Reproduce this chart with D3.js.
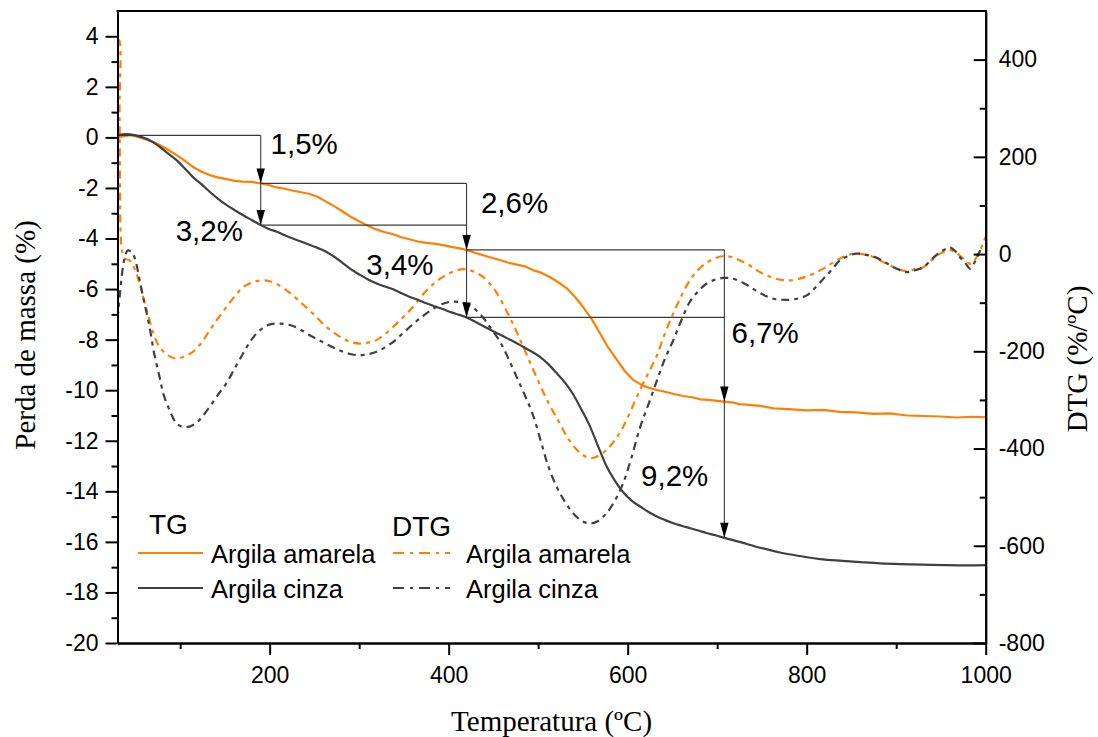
<!DOCTYPE html>
<html>
<head>
<meta charset="utf-8">
<script src="https://cdn.jsdelivr.net/npm/d3@7"></script>
<style>
  html, body { margin: 0; padding: 0; background: #fff; }
  svg { display: block; }
</style>
</head>
<body>
<svg id="chart" width="1098" height="737"></svg>
<script>
// ---- Data -------------------------------------------------------------
// TG (mass loss, %) — temperature in ºC
const tgAmarelaT = [30, 36, 44, 52, 62, 70, 77, 86, 96, 105, 114, 124, 133, 142, 152, 161, 170, 180, 190, 199,
  208, 217, 226, 235, 245, 254, 263, 273, 282, 291, 301, 310, 319, 328, 338, 347, 356, 366, 375, 384,
  394, 403, 412, 420, 430, 446, 457, 466, 475, 485, 494, 504, 513, 522, 532, 541, 550, 560, 569, 578,
  588, 597, 606, 616, 625, 634, 644, 653, 662, 672, 681, 690, 700, 708, 718, 725, 735, 748, 763, 780,
  800, 818, 837, 855, 875, 893, 912, 930, 949, 968, 985, 1000];
const tgAmarela = [-0.02, 0.04, 0.09, 0.03, -0.08, -0.18, -0.30, -0.48, -0.70, -0.92, -1.16, -1.36, -1.49, -1.58, -1.65, -1.72, -1.75, -1.76, -1.82, -1.88,
  -1.98, -2.03, -2.11, -2.17, -2.24, -2.36, -2.54, -2.74, -2.94, -3.15, -3.34, -3.50, -3.64, -3.74, -3.83, -3.95, -4.03, -4.12, -4.17, -4.20,
  -4.26, -4.33, -4.39, -4.45, -4.57, -4.74, -4.85, -4.95, -5.02, -5.10, -5.25, -5.36, -5.52, -5.72, -5.97, -6.30, -6.70, -7.20, -7.75, -8.30,
  -8.80, -9.25, -9.59, -9.80, -9.92, -10.00, -10.08, -10.16, -10.23, -10.28, -10.36, -10.38, -10.42, -10.45, -10.49, -10.55, -10.58, -10.62, -10.72, -10.75,
  -10.80, -10.78, -10.86, -10.88, -10.94, -10.92, -11.00, -11.02, -11.04, -11.08, -11.05, -11.07];

const tgCinzaT = [30, 40, 50, 58, 68, 77, 86, 96, 105, 114, 124, 133, 142, 152, 161, 170, 180, 190, 199, 208,
  217, 226, 235, 245, 254, 263, 273, 282, 291, 301, 310, 319, 328, 338, 347, 356, 366, 375, 384, 394,
  403, 412, 420, 430, 446, 456, 465, 474, 483, 492, 502, 511, 520, 530, 539, 548, 558, 567, 576, 586,
  595, 604, 614, 623, 632, 642, 651, 660, 670, 679, 688, 698, 707, 725, 748, 770, 790, 815, 840, 860,
  882, 905, 930, 955, 980, 1000];
const tgCinza = [0.08, 0.13, 0.08, 0.0, -0.15, -0.37, -0.62, -0.90, -1.22, -1.56, -1.86, -2.15, -2.42, -2.68, -2.88, -3.07, -3.27, -3.47, -3.62, -3.73,
  -3.87, -4.00, -4.12, -4.26, -4.38, -4.52, -4.74, -4.98, -5.22, -5.44, -5.62, -5.77, -5.89, -6.01, -6.16, -6.30, -6.43, -6.56, -6.68, -6.80,
  -6.92, -7.02, -7.12, -7.30, -7.60, -7.78, -7.94, -8.10, -8.28, -8.46, -8.68, -8.96, -9.30, -9.70, -10.16, -10.74, -11.44, -12.22, -12.98, -13.60,
  -14.04, -14.36, -14.60, -14.81, -14.99, -15.14, -15.26, -15.36, -15.46, -15.55, -15.65, -15.74, -15.83, -16.00, -16.23, -16.42, -16.55, -16.68, -16.75, -16.80,
  -16.85, -16.88, -16.90, -16.92, -16.93, -16.92];

// DTG (%/ºC)
const dtgAmarelaT = [30, 31.8, 32.3, 32.8, 33.5, 35, 38, 43.5, 49, 54.7, 60, 65.8, 71, 77, 86, 95.7, 105, 114.3, 124, 133, 142,
  151.6, 161, 170.2, 181, 192.5, 200, 207.5, 217, 226, 235, 244.7, 254, 263.4, 273, 282, 291, 300.6, 310, 319.3, 328,
  337.8, 347, 356.5, 366, 375.2, 384, 393.7, 405, 416, 425, 438.4, 452, 466, 476, 485, 494, 503, 512, 522, 531,
  540, 549, 558, 567, 576.4, 586, 595, 604, 613.6, 623, 632.3, 641, 651, 660, 669.5, 679, 688, 697, 706.8, 716,
  725.5, 735, 744, 753, 762.7, 772, 781.4, 791, 800, 809, 818.6, 828, 837.2, 846, 855.9, 865, 874.5, 884, 893.1, 902,
  911.8, 921, 930.3, 940, 949, 960, 966, 971, 977, 982.6, 986, 990, 994, 997.5, 1000];
const dtgAmarela = [440, 440, 300, 150, 45, 8, -9, -13, -30, -60, -98, -136, -168, -191, -208, -215, -210, -201, -182, -157, -133,
  -109, -87, -68, -58, -54, -56, -61, -72, -85, -100, -116, -133, -150, -163, -174, -181, -184, -182, -177, -166,
  -150, -134, -116, -95, -75, -60, -47, -36, -31, -34, -47, -75, -122, -160, -198, -236, -273, -308, -341, -372,
  -396, -412, -420, -415, -403, -382, -355, -320, -280, -245, -210, -166, -122, -86, -54, -32, -18, -9, -4, -6,
  -13, -22, -33, -42, -49, -53, -54, -51, -46, -39, -30, -19, -9, -2, 1, -1, -6, -15, -23, -31,
  -35, -31, -27, -12, 1, 8, 4, -3, -12, -20, -16, -6, 8, 25, 35];

const dtgCinzaT = [30, 32.4, 36, 39, 41.6, 44, 47.2, 51, 54.7, 60, 65.8, 71, 77, 82, 88.2, 95.7, 101, 106.9, 114, 121.7,
  133, 142, 151.6, 161, 170.2, 179, 188.8, 198, 207.5, 217, 226, 235, 244.7, 254, 263.4, 273, 282, 291, 300.6, 310,
  319.3, 328, 337.8, 347, 356.5, 366, 375.2, 384, 393.7, 403, 412.4, 422, 431, 440, 446, 452, 458, 466, 476, 485,
  494, 503, 511, 520.5, 530, 539, 548, 557.7, 567, 576.4, 586, 595, 604, 613.6, 623, 632.3, 641, 651, 660, 669.5, 679,
  688, 697, 706.8, 716, 725.5, 735, 744, 753, 762.7, 772, 781.4, 791, 800, 809, 818.6, 828, 837.2, 846, 855.9, 865,
  874.5, 884, 893.1, 902, 911.8, 921, 930.3, 940, 949, 955, 960, 966, 971, 977, 982.6, 986, 990, 994];
const dtgCinza = [-135, -88, -27, 0, 8, 6, 1, -20, -54, -100, -150, -205, -253, -292, -321, -348, -354, -356, -352, -341,
  -314, -290, -266, -235, -205, -178, -157, -146, -143, -144, -148, -156, -167, -176, -185, -194, -201, -206, -208, -206,
  -201, -193, -181, -166, -150, -135, -122, -111, -102, -98, -99, -104, -116, -134, -150, -165, -182, -212, -253, -290,
  -330, -385, -435, -478, -510, -533, -548, -554, -549, -533, -506, -471, -420, -358, -310, -262, -218, -177, -136, -98, -76,
  -61, -53, -49, -50, -56, -65, -76, -85, -92, -94, -94, -91, -85, -70, -51, -32, -13, -4, 1, -1,
  -5, -13, -23, -31, -37, -33, -27, -10, 4, 10, 14, 6, -6, -18, -30, -22, -9, 8];

// Axis ticks
const tempTicks = [200, 400, 600, 800, 1000];
const tempMinor = [100, 300, 500, 700, 900];
const tgTicks = [-20, -18, -16, -14, -12, -10, -8, -6, -4, -2, 0, 2, 4];
const tgMinor = [-19, -17, -15, -13, -11, -9, -7, -5, -3, -1, 1, 3];
const dtgTicks = [-800, -600, -400, -200, 0, 200, 400];
const dtgMinor = [-700, -500, -300, -100, 100, 300];

// Mass-loss steps: reference temperatures and stated losses
const stepTemps = [190, 420, 708];
const stepLabels = ["1,5%", "3,2%", "2,6%", "3,4%", "6,7%", "9,2%"];

// Legend text
const legendGroups = ["TG", "DTG"];
const seriesNames = ["Argila amarela", "Argila cinza"];

// ---- Layout -----------------------------------------------------------
const ORANGE = "#ff8000";
const GRAY = "#404040";
const TICK_FONT = "'Liberation Sans', Arial, sans-serif";
const TITLE_FONT = "'Liberation Serif', 'Times New Roman', serif";

const plot = { left: 117.5, right: 985.7, top: 11, bottom: 643 };

const svg = d3.select("#chart");

const x = d3.scaleLinear().domain([30, 1000]).range([plot.left, plot.right]);
const yL = d3.scaleLinear().domain([-20, 5]).range([plot.bottom, plot.top]);
const yR = d3.scaleLinear().domain([-800, 500]).range([plot.bottom, plot.top]);

svg.append("defs").append("clipPath").attr("id", "plotClip")
  .append("rect")
  .attr("x", plot.left).attr("y", plot.top)
  .attr("width", plot.right - plot.left).attr("height", plot.bottom - plot.top);

const zip = (ts, vs) => ts.map((t, i) => [t, vs[i]]);

// ---- Curves -----------------------------------------------------------
const curves = svg.append("g").attr("clip-path", "url(#plotClip)");

const lineL = d3.line().x(d => x(d[0])).y(d => yL(d[1]));
const lineLSmooth = d3.line().x(d => x(d[0])).y(d => yL(d[1])).curve(d3.curveMonotoneX);
const lineR = d3.line().x(d => x(d[0])).y(d => yR(d[1])).curve(d3.curveCatmullRom.alpha(0.5));

const DASH = "8,5,4,5";

curves.append("path").datum(zip(dtgAmarelaT, dtgAmarela))
  .attr("d", lineR).attr("fill", "none").attr("stroke", ORANGE)
  .attr("stroke-width", 2.2).attr("stroke-dasharray", DASH);
curves.append("path").datum(zip(dtgCinzaT, dtgCinza))
  .attr("d", lineR).attr("fill", "none").attr("stroke", GRAY)
  .attr("stroke-width", 2.2).attr("stroke-dasharray", DASH);

curves.append("path").datum(zip(tgAmarelaT, tgAmarela))
  .attr("d", lineL).attr("fill", "none").attr("stroke", ORANGE)
  .attr("stroke-width", 2.2).attr("stroke-linejoin", "round");
curves.append("path").datum(zip(tgCinzaT, tgCinza))
  .attr("d", lineLSmooth).attr("fill", "none").attr("stroke", GRAY)
  .attr("stroke-width", 2.2).attr("stroke-linejoin", "round");

// ---- Step annotations -------------------------------------------------
const interp = (ts, vs, t) => {
  const i = d3.bisectLeft(ts, t);
  if (i <= 0) return vs[0];
  if (i >= ts.length) return vs[vs.length - 1];
  const f = (t - ts[i - 1]) / (ts[i] - ts[i - 1]);
  return vs[i - 1] + f * (vs[i] - vs[i - 1]);
};
const tgA = t => interp(tgAmarelaT, tgAmarela, t);
const tgC = t => interp(tgCinzaT, tgCinza, t);

const ann = svg.append("g");
const startLevel = 0.08;
const LINE_COLOR = "#3a3a3a";

// horizontal guide from the start of the run at the initial mass
ann.append("line")
  .attr("x1", x(30)).attr("x2", x(stepTemps[0]))
  .attr("y1", yL(startLevel)).attr("y2", yL(startLevel))
  .attr("stroke", LINE_COLOR).attr("stroke-width", 1.1);

stepTemps.forEach((t, i) => {
  const top = i === 0 ? startLevel : tgA(stepTemps[i - 1]);
  const bottom = tgC(t);
  ann.append("line")
    .attr("x1", x(t)).attr("x2", x(t))
    .attr("y1", yL(top)).attr("y2", yL(bottom))
    .attr("stroke", LINE_COLOR).attr("stroke-width", 1.1);
  if (i < stepTemps.length - 1) {
    [tgA(t), tgC(t)].forEach(v => {
      ann.append("line")
        .attr("x1", x(t)).attr("x2", x(stepTemps[i + 1]))
        .attr("y1", yL(v)).attr("y2", yL(v))
        .attr("stroke", LINE_COLOR).attr("stroke-width", 1.1);
    });
  }
  [tgA(t), tgC(t)].forEach(v => {
    const px = x(t), py = yL(v);
    ann.append("path")
      .attr("d", `M${px},${py} L${px - 4.2},${py - 15} L${px + 4.2},${py - 15} Z`)
      .attr("fill", "#000");
  });
});

// loss labels, anchored in data coordinates
const labelPos = [[201, -0.66], [95, -4.09], [436, -2.99], [308, -5.44], [716, -8.12], [615, -13.77]];
ann.selectAll("text.loss").data(stepLabels).join("text")
  .attr("class", "loss")
  .attr("x", (d, i) => x(labelPos[i][0]))
  .attr("y", (d, i) => yL(labelPos[i][1]))
  .attr("font-family", TICK_FONT).attr("font-size", 29.5)
  .attr("fill", "#000")
  .text(d => d);

// ---- Axes -------------------------------------------------------------
const plain = d => String(d);

function styleAxis(g) {
  g.selectAll(".domain").attr("stroke", "#000").attr("stroke-width", 2);
  g.selectAll(".tick line").attr("stroke", "#000").attr("stroke-width", 2);
  g.selectAll(".tick text").attr("font-family", TICK_FONT).attr("font-size", 23).attr("fill", "#000");
}

// bottom
svg.append("g").attr("transform", `translate(0,${plot.bottom})`)
  .call(d3.axisBottom(x).tickValues(tempMinor).tickSize(6).tickFormat("").tickSizeOuter(0))
  .call(styleAxis);
svg.append("g").attr("transform", `translate(0,${plot.bottom})`)
  .call(d3.axisBottom(x).tickValues(tempTicks).tickSize(12).tickPadding(12).tickSizeOuter(0).tickFormat(plain))
  .call(styleAxis);

// left
svg.append("g").attr("transform", `translate(${plot.left},0)`)
  .call(d3.axisLeft(yL).tickValues(tgMinor).tickSize(6).tickFormat("").tickSizeOuter(0))
  .call(styleAxis);
svg.append("g").attr("transform", `translate(${plot.left},0)`)
  .call(d3.axisLeft(yL).tickValues(tgTicks).tickSize(12).tickPadding(7).tickSizeOuter(0).tickFormat(plain))
  .call(styleAxis);

// right (ticks point into the plot)
svg.append("g").attr("transform", `translate(${plot.right},0)`)
  .call(d3.axisRight(yR).tickValues(dtgMinor).tickSize(-6).tickFormat("").tickSizeOuter(0))
  .call(styleAxis);
svg.append("g").attr("transform", `translate(${plot.right},0)`)
  .call(d3.axisRight(yR).tickValues(dtgTicks).tickSize(-12).tickPadding(13).tickSizeOuter(0).tickFormat(plain))
  .call(styleAxis);

// top frame
svg.append("line")
  .attr("x1", plot.left - 1).attr("x2", plot.right + 1)
  .attr("y1", plot.top).attr("y2", plot.top)
  .attr("stroke", "#000").attr("stroke-width", 2);

// ---- Axis titles ------------------------------------------------------
svg.append("text")
  .attr("transform", `translate(${(plot.left + plot.right) / 2},731)`)
  .attr("text-anchor", "middle")
  .attr("font-family", TITLE_FONT).attr("font-size", 29).attr("fill", "#000")
  .text("Temperatura (ºC)");

svg.append("text")
  .attr("transform", "translate(35,335) rotate(-90)")
  .attr("text-anchor", "middle")
  .attr("font-family", TITLE_FONT).attr("font-size", 29).attr("fill", "#000")
  .text("Perda de massa (%)");

svg.append("text")
  .attr("transform", "translate(1087,359) rotate(-90)")
  .attr("text-anchor", "middle")
  .attr("font-family", TITLE_FONT).attr("font-size", 29).attr("fill", "#000")
  .text("DTG (%/ºC)");

// ---- Legend -----------------------------------------------------------
const legend = svg.append("g");
const legendCols = [
  { head: legendGroups[0], hx: 149, hy: 534, sx1: 138, sx2: 203, tx: 211, dash: null },
  { head: legendGroups[1], hx: 392, hy: 536, sx1: 393, sx2: 450, tx: 466, dash: "11,6,3,6" }
];
const rowY = [553, 588];
const colors = [ORANGE, GRAY];

legendCols.forEach(c => {
  legend.append("text")
    .attr("x", c.hx).attr("y", c.hy)
    .attr("font-family", TICK_FONT).attr("font-size", 28).attr("fill", "#000")
    .text(c.head);
  seriesNames.forEach((name, j) => {
    legend.append("line")
      .attr("x1", c.sx1).attr("x2", c.sx2)
      .attr("y1", rowY[j]).attr("y2", rowY[j])
      .attr("stroke", colors[j]).attr("stroke-width", 2.2)
      .attr("stroke-dasharray", c.dash);
    legend.append("text")
      .attr("x", c.tx).attr("y", rowY[j] + 10)
      .attr("font-family", TICK_FONT).attr("font-size", 25.5).attr("fill", "#000")
      .text(name);
  });
});
</script>
</body>
</html>
